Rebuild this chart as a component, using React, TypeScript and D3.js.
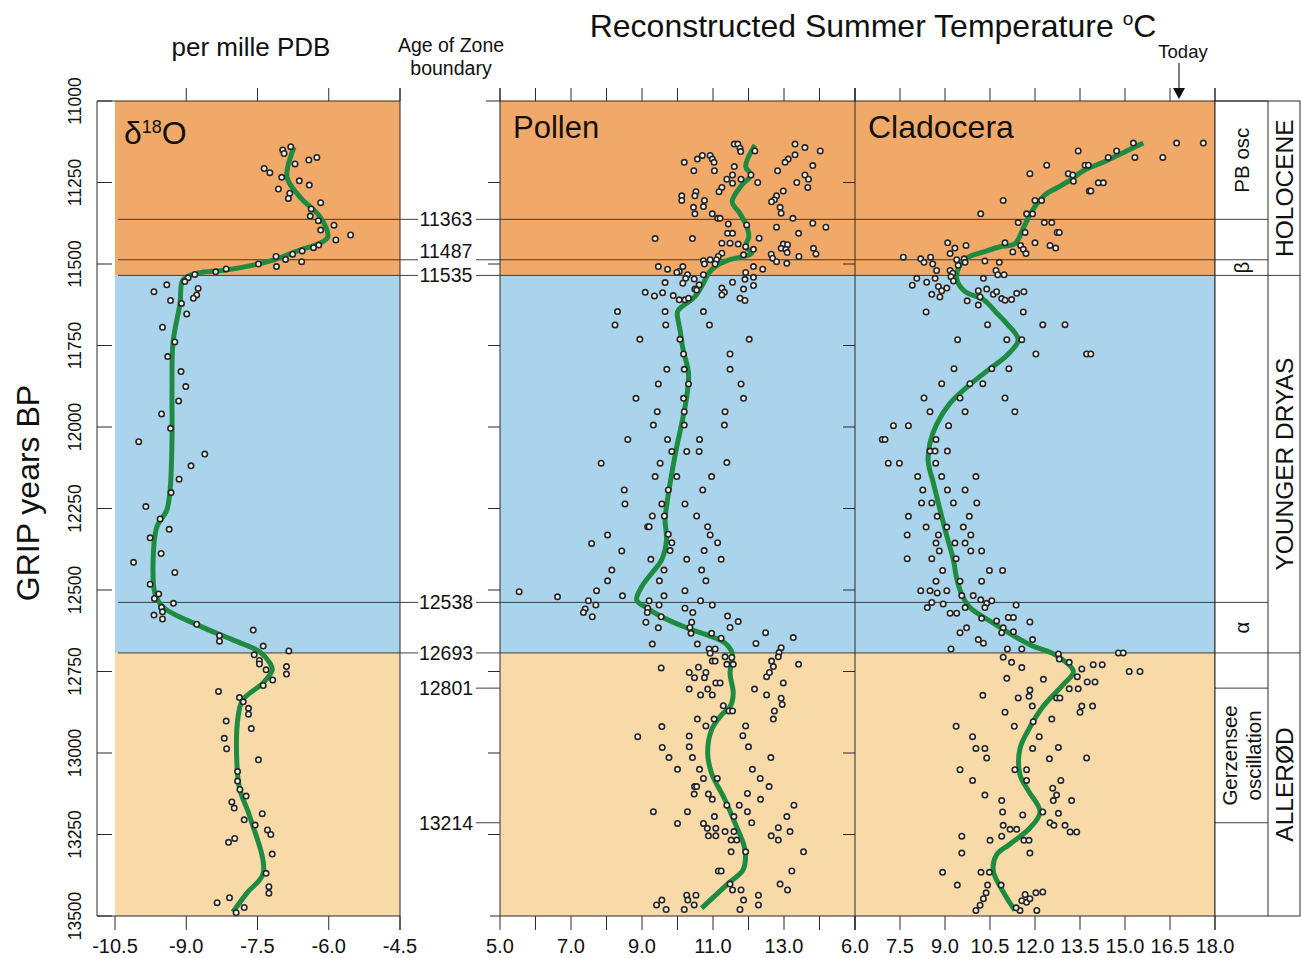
import { useEffect, useRef } from "react";
import * as d3 from "d3";

type Pt = [number, number]; // [year BP, value]

const yearTicks = [11000, 11250, 11500, 11750, 12000, 12250, 12500, 12750, 13000, 13250, 13500];
const deltaTicks = [-10.5, -9, -7.5, -6, -4.5];
const pollenTicks = [5, 6, 7, 8, 9, 10, 11, 12, 13, 14, 15];
const pollenLabels = [5, 7, 9, 11, 13];
const cladTicks = [6, 7.5, 9, 10.5, 12, 13.5, 15, 16.5, 18];
const todayTemp = 16.8;

const zoneNames = ["HOLOCENE", "YOUNGER DRYAS", "ALLERØD"];
const zoneBounds = [11000, 11535, 12693, 13500];
const subzoneNames = [["PB osc"], ["β"], ["α"], ["Gerzensee", "oscillation"]];
const subzoneSpans: Pt[] = [[11000, 11363], [11487, 11535], [12538, 12693], [12801, 13214]];
const boundaryAges = [11363, 11487, 11535, 12538, 12693, 12801, 13214];
const crossingAges = [11363, 11487, 11535, 12538, 12693];

const deltaCurve: Pt[] = [[11141,-6.73],[11233,-6.88],[11294,-6.61],[11356,-6.18],[11417,-6.02],[11436,-6.18],[11457,-6.61],[11488,-7.17],[11518,-8.14],[11528,-8.77],[11549,-9.07],[11620,-9.13],[11742,-9.28],[11887,-9.3],[12040,-9.3],[12193,-9.34],[12255,-9.41],[12307,-9.62],[12429,-9.7],[12509,-9.66],[12552,-9.49],[12607,-8.77],[12653,-8.02],[12690,-7.45],[12724,-7.24],[12745,-7.19],[12785,-7.38],[12837,-7.81],[12890,-7.91],[13043,-7.93],[13113,-7.87],[13196,-7.66],[13368,-7.38],[13429,-7.72],[13488,-8.02]];

const deltaPts: Pt[] = [[11140,-6.8],[11150,-6.97],[11161,-6.94],[11173,-6.25],[11181,-6.42],[11193,-6.71],[11207,-7.36],[11220,-7.24],[11234,-6.99],[11245,-6.62],[11258,-6.41],[11270,-7.06],[11283,-6.82],[11299,-6.85],[11312,-6.17],[11331,-6.37],[11353,-6.39],[11367,-6.22],[11381,-5.89],[11396,-6.17],[11411,-5.54],[11426,-5.85],[11442,-6.21],[11450,-6.32],[11460,-6.56],[11470,-6.76],[11486,-6.91],[11477,-7.11],[11508,-7.1],[11493,-6.57],[11500,-7.48],[11515,-8.16],[11524,-8.38],[11532,-8.82],[11542,-8.96],[11554,-9.03],[11564,-9.41],[11585,-9.68],[11575,-8.75],[11595,-8.78],[11605,-8.85],[11612,-9.33],[11621,-9.1],[11653,-8.99],[11694,-9.5],[11739,-9.24],[11784,-9.39],[11830,-9.11],[11876,-9.01],[11920,-9.16],[11960,-9.52],[12004,-9.33],[12045,-10.0],[12083,-8.61],[12119,-8.9],[12160,-9.15],[12201,-9.32],[12244,-9.85],[12282,-9.55],[12314,-9.36],[12340,-9.76],[12388,-9.53],[12415,-10.11],[12446,-9.24],[12482,-9.76],[12512,-9.58],[12526,-9.67],[12541,-9.27],[12553,-9.52],[12567,-9.5],[12577,-9.68],[12589,-9.5],[12605,-8.78],[12623,-7.59],[12640,-8.3],[12657,-8.3],[12672,-7.38],[12687,-6.84],[12699,-7.57],[12716,-7.46],[12727,-7.46],[12745,-7.32],[12735,-6.89],[12758,-6.89],[12776,-7.18],[12793,-7.38],[12811,-8.32],[12830,-7.88],[12843,-7.8],[12863,-7.69],[12881,-7.69],[12902,-8.16],[12925,-7.63],[12955,-8.2],[12987,-8.15],[13021,-7.48],[13057,-7.92],[13086,-7.92],[13112,-7.87],[13132,-7.74],[13150,-8.04],[13169,-7.99],[13186,-7.4],[13205,-7.78],[13221,-7.55],[13236,-7.29],[13250,-7.22],[13262,-7.98],[13274,-8.11],[13310,-7.19],[13369,-7.32],[13410,-7.26],[13430,-7.26],[13444,-8.09],[13459,-8.35],[13474,-7.78],[13490,-7.95]];

const pollenCurve: Pt[] = [[11135,12.18],[11201,11.92],[11227,12.07],[11258,11.81],[11309,11.54],[11345,11.76],[11385,11.95],[11416,12.01],[11447,11.92],[11467,12.09],[11478,11.81],[11488,11.43],[11508,11.06],[11529,10.87],[11559,10.73],[11600,10.49],[11631,10.12],[11646,10.0],[11702,10.07],[11764,10.16],[11835,10.31],[11907,10.26],[11989,10.12],[12060,9.98],[12142,9.84],[12244,9.69],[12285,9.65],[12347,9.69],[12408,9.55],[12449,9.27],[12490,8.99],[12531,8.85],[12551,9.08],[12582,9.55],[12618,10.31],[12643,10.96],[12663,11.34],[12694,11.54],[12755,11.48],[12817,11.57],[12858,11.48],[12883,11.24],[12929,10.96],[13001,10.85],[13062,10.96],[13144,11.34],[13215,11.62],[13297,11.9],[13358,11.85],[13400,11.43],[13476,10.68]];

const pollenPts: Pt[] = [[11132,11.6],[11132,11.7],[11145,11.76],[11155,11.78],[11153,12.18],[11132,13.31],[11143,13.59],[11153,14.02],[11188,10.19],[11178,10.56],[11167,10.7],[11167,10.92],[11178,10.98],[11188,11.03],[11178,13.12],[11188,13.03],[11165,13.31],[11198,13.81],[11214,10.46],[11214,11.04],[11201,11.6],[11214,12.82],[11227,12.07],[11227,11.55],[11240,11.39],[11240,11.79],[11252,11.55],[11250,12.26],[11227,13.59],[11240,13.69],[11250,13.36],[11265,13.67],[11265,11.25],[11278,11.17],[11276,12.98],[11291,10.12],[11305,10.12],[11278,10.52],[11291,10.49],[11305,10.76],[11324,10.73],[11326,10.45],[11346,10.49],[11291,12.79],[11303,12.73],[11309,12.65],[11326,12.89],[11344,12.92],[11346,10.98],[11360,11.13],[11360,11.2],[11377,11.43],[11380,11.95],[11360,13.25],[11375,13.81],[11387,14.18],[11387,12.79],[11406,13.41],[11422,9.37],[11422,10.42],[11406,11.41],[11406,11.55],[11421,12.3],[11436,11.25],[11436,11.48],[11439,11.71],[11447,11.92],[11439,12.98],[11441,13.1],[11452,12.92],[11455,13.05],[11452,13.83],[11465,13.09],[11469,13.9],[11467,11.25],[11477,11.15],[11472,11.86],[11455,12.14],[11470,12.64],[11482,12.68],[11493,12.79],[11498,13.08],[11477,13.42],[11487,11.1],[11487,10.92],[11490,10.73],[11500,10.76],[11508,9.46],[11516,9.72],[11500,11.06],[11508,12.14],[11516,12.4],[11526,11.92],[11508,10.15],[11523,10.05],[11526,9.98],[11533,10.28],[11544,10.23],[11546,10.47],[11533,10.73],[11559,10.15],[11557,9.65],[11564,10.61],[11577,10.49],[11574,11.25],[11556,11.55],[11547,11.9],[11541,12.14],[11577,11.86],[11566,12.14],[11587,11.32],[11595,11.25],[11587,9.09],[11598,9.35],[11588,9.58],[11597,9.88],[11610,10.05],[11610,10.21],[11605,10.31],[11580,10.54],[11605,11.76],[11612,11.9],[11646,8.31],[11646,9.65],[11646,10.73],[11687,8.24],[11687,9.67],[11687,10.9],[11731,8.94],[11731,10.07],[11731,12.02],[11776,10.17],[11776,11.48],[11823,9.7],[11823,10.19],[11823,11.48],[11868,9.46],[11868,10.31],[11868,11.79],[11912,8.83],[11912,10.17],[11912,11.86],[11953,9.43],[11953,10.19],[11953,11.34],[11994,9.32],[11994,10.19],[11994,11.32],[12038,8.6],[12038,9.72],[12038,10.62],[12075,9.84],[12075,10.26],[12075,10.61],[12111,7.85],[12111,9.51],[12109,11.39],[12152,9.37],[12152,9.98],[12152,10.96],[12193,8.5],[12193,9.74],[12193,10.71],[12236,8.52],[12236,9.56],[12236,10.21],[12273,9.29],[12273,9.63],[12273,10.54],[12306,9.16],[12306,9.2],[12306,10.85],[12331,8.03],[12329,9.74],[12331,10.92],[12357,7.58],[12355,9.84],[12355,11.13],[12380,8.43],[12379,9.79],[12379,10.75],[12406,9.25],[12406,10.26],[12406,11.23],[12439,8.15],[12439,9.62],[12439,10.68],[12472,8.03],[12472,9.49],[12472,10.8],[12505,5.54],[12502,7.72],[12502,10.21],[12521,6.62],[12518,8.45],[12518,9.62],[12533,7.49],[12546,7.7],[12533,9.2],[12546,9.48],[12533,10.65],[12546,10.98],[12558,7.4],[12569,7.35],[12582,7.6],[12556,9.16],[12569,9.15],[12556,10.21],[12569,10.43],[12582,9.54],[12580,11.41],[12599,9.11],[12616,9.46],[12599,10.4],[12615,10.35],[12633,10.38],[12615,11.48],[12597,11.71],[12633,10.96],[12648,11.23],[12631,12.48],[12664,12.21],[12646,13.26],[12666,9.29],[12666,10.56],[12681,10.89],[12681,11.06],[12694,10.92],[12718,10.98],[12718,11.06],[12705,11.34],[12707,11.53],[12728,11.39],[12728,11.57],[12677,12.92],[12692,12.86],[12705,12.84],[12718,12.65],[12735,12.7],[12728,13.41],[12739,9.54],[12753,10.33],[12737,10.59],[12769,10.48],[12753,10.8],[12769,10.76],[12766,12.51],[12753,12.59],[12785,11.08],[12785,11.2],[12785,12.98],[12804,10.33],[12804,10.85],[12822,10.65],[12822,10.98],[12804,12.17],[12822,12.51],[12832,12.92],[12851,12.95],[12855,11.29],[12871,11.45],[12871,11.55],[12871,12.73],[12896,12.7],[12896,10.56],[12896,11.03],[12917,10.8],[12919,9.56],[12950,8.88],[12948,10.33],[12917,11.92],[12947,11.84],[12983,9.57],[12981,10.33],[12981,12.0],[13014,9.76],[13014,10.42],[13014,12.63],[13050,10.0],[13050,10.62],[13050,12.11],[13078,10.73],[13078,11.12],[13078,12.33],[13103,10.48],[13103,10.54],[13103,12.58],[13126,10.47],[13126,10.87],[13142,10.98],[13124,11.97],[13142,12.34],[13160,11.39],[13160,11.74],[13160,13.28],[13180,9.32],[13180,10.28],[13180,11.97],[13195,11.04],[13195,11.59],[13195,13.08],[13216,10.0],[13216,10.73],[13214,12.09],[13231,10.84],[13231,11.08],[13241,11.34],[13241,11.59],[13229,12.84],[13241,13.17],[13254,10.87],[13254,11.08],[13254,12.64],[13267,11.51],[13267,11.67],[13267,12.84],[13303,11.51],[13303,11.92],[13303,13.55],[13362,11.15],[13362,11.23],[13362,13.22],[13402,11.48],[13402,12.89],[13420,11.55],[13420,11.79],[13420,13.1],[13436,10.26],[13436,10.52],[13436,12.28],[13451,9.56],[13451,10.29],[13451,11.86],[13466,9.41],[13466,10.47],[13466,12.28],[13480,9.68],[13480,10.19],[13480,11.76]];

const cladCurve: Pt[] = [[11129,15.61],[11148,15.17],[11183,14.39],[11214,13.61],[11243,13.17],[11267,12.72],[11284,12.39],[11316,12.06],[11349,11.83],[11390,11.61],[11438,11.33],[11447,10.83],[11463,10.28],[11479,9.78],[11504,9.5],[11544,9.39],[11585,9.67],[11609,10.28],[11650,10.72],[11683,11.06],[11732,11.44],[11781,11.06],[11821,10.5],[11870,9.83],[11927,9.17],[11992,8.72],[12049,8.5],[12106,8.44],[12171,8.61],[12253,8.83],[12334,9.06],[12408,9.28],[12465,9.39],[12514,9.56],[12554,9.83],[12595,10.5],[12628,11.06],[12668,11.83],[12701,12.72],[12750,13.28],[12790,12.94],[12856,12.28],[12921,11.83],[12986,11.5],[13067,11.5],[13116,11.78],[13181,12.17],[13230,11.83],[13279,11.17],[13312,10.72],[13361,10.61],[13426,10.94],[13483,11.33]];

const cladPts: Pt[] = [[11153,13.44],[11153,14.72],[11129,15.28],[11129,16.72],[11129,17.61],[11173,15.33],[11173,16.26],[11173,14.44],[11197,12.39],[11197,13.67],[11197,13.78],[11223,11.83],[11223,13.11],[11227,13.26],[11246,13.28],[11276,13.81],[11276,13.86],[11251,14.11],[11251,14.28],[11305,10.94],[11305,12.0],[11305,12.22],[11346,10.19],[11346,11.72],[11346,11.92],[11373,12.31],[11373,12.56],[11373,11.44],[11403,11.67],[11403,12.74],[11403,12.81],[11435,12.0],[11435,11.0],[11443,11.52],[11455,11.61],[11468,11.7],[11443,12.5],[11451,12.69],[11463,11.26],[11479,7.61],[11484,8.19],[11479,8.52],[11435,9.09],[11468,9.17],[11451,9.33],[11443,9.7],[11484,9.64],[11487,9.39],[11495,8.3],[11500,8.59],[11520,8.72],[11520,9.17],[11528,9.26],[11504,9.44],[11495,9.67],[11491,10.33],[11495,10.81],[11520,10.7],[11533,10.76],[11533,10.97],[11539,9.2],[11544,8.67],[11556,8.39],[11544,8.06],[11565,7.91],[11552,9.28],[11544,10.28],[11569,8.78],[11582,8.89],[11574,9.06],[11593,8.56],[11601,8.83],[11647,8.37],[11582,10.11],[11577,10.39],[11593,10.61],[11585,10.72],[11606,10.89],[11611,11.0],[11609,11.22],[11590,11.39],[11585,11.63],[11613,9.74],[11601,10.17],[11626,10.11],[11647,11.61],[11686,10.42],[11686,12.26],[11686,13.0],[11732,9.42],[11732,11.06],[11732,11.56],[11776,12.03],[11776,13.72],[11776,13.86],[11821,9.3],[11821,10.56],[11821,11.13],[11867,8.89],[11867,9.83],[11867,10.26],[11911,8.3],[11911,9.5],[11911,11.0],[11953,8.5],[11953,9.67],[11953,11.33],[11996,7.28],[11996,7.78],[11996,9.12],[12038,6.91],[12038,7.0],[12038,8.7],[12074,8.5],[12074,8.67],[12074,9.08],[12111,7.11],[12111,7.48],[12111,8.69],[12152,8.09],[12152,8.89],[12152,10.03],[12193,8.26],[12193,9.08],[12193,9.67],[12233,8.22],[12233,8.56],[12233,9.28],[12233,10.06],[12274,7.78],[12274,8.74],[12274,9.81],[12307,8.37],[12307,9.06],[12307,9.61],[12331,7.74],[12331,8.78],[12331,9.86],[12356,8.7],[12356,9.33],[12356,9.67],[12380,8.81],[12380,9.86],[12380,10.22],[12404,7.74],[12404,8.56],[12404,9.37],[12440,8.92],[12440,10.48],[12440,10.92],[12473,8.7],[12473,10.22],[12473,9.5],[12502,8.19],[12502,8.5],[12509,8.74],[12502,9.06],[12517,9.56],[12517,9.94],[12530,10.19],[12541,10.39],[12533,10.56],[12538,8.56],[12554,8.41],[12543,8.94],[12571,9.17],[12571,9.39],[12554,9.67],[12554,10.33],[12546,11.37],[12584,11.11],[12584,11.28],[12587,10.22],[12595,10.72],[12598,11.83],[12616,9.72],[12631,9.5],[12616,10.94],[12628,11.28],[12631,10.89],[12652,10.11],[12663,10.28],[12681,9.2],[12681,11.08],[12681,11.56],[12652,11.92],[12696,12.78],[12693,14.78],[12693,14.94],[12706,10.94],[12722,11.22],[12712,12.81],[12722,13.14],[12742,13.56],[12729,13.94],[12729,14.24],[12738,11.56],[12750,15.14],[12750,15.5],[12766,13.41],[12782,13.74],[12782,14.0],[12771,11.06],[12774,12.28],[12803,13.44],[12803,13.14],[12807,11.83],[12823,10.26],[12826,11.8],[12856,11.91],[12831,11.44],[12831,12.72],[12831,12.83],[12856,13.56],[12856,13.92],[12875,13.5],[12896,12.56],[12875,11.0],[12904,11.94],[12918,9.37],[12918,11.31],[12950,9.92],[12950,12.14],[12986,10.03],[12986,10.33],[12986,11.92],[12983,12.78],[13015,10.39],[13018,12.48],[13015,13.72],[13051,9.5],[13051,11.33],[13051,11.72],[13084,9.92],[13084,11.72],[13084,12.86],[13129,10.33],[13108,12.59],[13129,12.72],[13146,10.89],[13146,12.61],[13146,13.22],[13181,10.92],[13190,11.59],[13181,12.26],[13185,12.78],[13222,10.94],[13234,11.17],[13234,11.39],[13214,12.5],[13222,12.63],[13222,13.0],[13242,13.17],[13242,13.39],[13255,9.56],[13268,10.5],[13255,10.89],[13268,11.63],[13268,11.8],[13307,9.56],[13307,11.83],[13366,8.92],[13366,10.2],[13366,10.48],[13405,9.41],[13405,10.42],[13405,10.87],[13429,10.37],[13447,10.28],[13467,10.17],[13483,10.03],[13453,11.56],[13458,11.72],[13447,11.83],[13434,11.67],[13429,12.03],[13426,12.26],[13483,12.06],[13483,11.5],[13475,11.37]];

const FONT = "'Liberation Sans', Arial, Helvetica, sans-serif";
const zoneColors = ["#f1a96a", "#a9d4eb", "#f8daa8"];

const App = () => {
  const svgRef = useRef<SVGSVGElement | null>(null);

  useEffect(() => {
    const svg = d3.select(svgRef.current);
    svg.selectAll("*").remove();
    svg.style("font-family", FONT);

    const ink = "#2b2b2b";
    const y = d3.scaleLinear().domain([11000, 13500]).range([101, 916]);
    const xD = d3.scaleLinear().domain([-10.5, -4.5]).range([115, 400]);
    const xP = d3.scaleLinear().domain([5, 15]).range([500, 855]);
    const xC = d3.scaleLinear().domain([6, 18]).range([855, 1215]);
    const colL = 1215, colM = 1268, colR = 1300;

    // zone colour bands behind each panel
    [xD, xP, xC].forEach((sc) => {
      const [x0, x1] = sc.range();
      zoneBounds.slice(0, -1).forEach((b, i) => {
        svg.append("rect")
          .attr("x", x0).attr("width", x1 - x0)
          .attr("y", y(b)).attr("height", y(zoneBounds[i + 1]) - y(b))
          .attr("fill", zoneColors[i]);
      });
    });

    const line = (x1: number, y1: number, x2: number, y2: number, w = 1) =>
      svg.append("line").attr("x1", x1).attr("y1", y1).attr("x2", x2).attr("y2", y2)
        .attr("stroke", ink).attr("stroke-width", w);

    const text = (x: number, yy: number, s: string, size: number, anchor = "middle") =>
      svg.append("text").attr("x", x).attr("y", yy).attr("font-size", size)
        .attr("text-anchor", anchor).attr("fill", "#111").text(s);

    const vtext = (x: number, yy: number, s: string, size: number) =>
      svg.append("text")
        .attr("transform", `translate(${x},${yy}) rotate(-90)`)
        .attr("text-anchor", "middle").attr("dy", "0.36em")
        .attr("font-size", size).attr("fill", "#111").text(s);

    // zone boundary lines across panels
    crossingAges.forEach((a) => {
      const yy = y(a);
      line(118, yy, 418, yy, 0.9);
      line(476, yy, colL, yy, 0.9);
    });
    boundaryAges.filter((a) => !crossingAges.includes(a)).forEach((a) => line(476, y(a), 500, y(a), 0.9));

    // boundary age labels
    boundaryAges.forEach((a) => {
      const off = a === 11487 ? -9 : 0;
      text(446, y(a) + off, String(a), 19.5).attr("dy", "0.36em");
    });

    // delta axis frame
    line(97, y(11000), 97, y(13500));
    line(97, y(11000), 400, y(11000));
    line(97, y(13500), 400, y(13500));
    line(400, 88, 400, 930);
    yearTicks.forEach((t) => line(97, y(t), 112, y(t)));
    deltaTicks.forEach((t, i) => {
      if (i > 0) line(xD(t), 88, xD(t), y(11000));
      line(xD(t), y(13500), xD(t), 930);
      text(xD(t), 953, t.toFixed(1), 20);
    });
    yearTicks.forEach((t) => vtext(75, y(t), String(t), 17.5));

    // temperature axes frame
    line(486, y(11000), colL, y(11000));
    line(490, y(13500), colL, y(13500));
    line(500, 88, 500, y(13500));
    line(855, 88, 855, 930);
    line(colL, 88, colL, 930);
    pollenTicks.forEach((t) => {
      line(xP(t), 88, xP(t), y(11000));
      line(xP(t), y(13500), xP(t), 930);
    });
    pollenLabels.forEach((t) => text(xP(t), 953, t.toFixed(1), 20));
    cladTicks.forEach((t) => {
      line(xC(t), 88, xC(t), y(11000));
      line(xC(t), y(13500), xC(t), 930);
      text(xC(t), 953, t.toFixed(1), 20);
    });
    yearTicks.slice(1, -1).forEach((t) => {
      line(488, y(t), 500, y(t));
      line(843, y(t), 855, y(t));
    });

    // Today arrow
    const tx = xC(todayTemp);
    line(tx, 63, tx, 90, 1.2);
    svg.append("path").attr("d", `M${tx - 6},88 L${tx + 6},88 L${tx},99 Z`).attr("fill", "#111");
    text(tx + 4, 58, "Today", 18.5);

    // green curves and points
    const drawSeries = (sc: d3.ScaleLinear<number, number>, curve: Pt[], pts: Pt[]) => {
      const gen = d3.line<Pt>().x((d) => sc(d[1])).y((d) => y(d[0])).curve(d3.curveCatmullRom.alpha(0.5));
      svg.append("path").datum(curve).attr("d", gen).attr("fill", "none")
        .attr("stroke", "#1f8b40").attr("stroke-width", 5).attr("stroke-linejoin", "round");
      svg.append("g").selectAll("circle").data(pts).join("circle")
        .attr("cx", (d) => sc(d[1])).attr("cy", (d) => y(d[0])).attr("r", 2.7)
        .attr("fill", "#f4f1ea").attr("stroke", "#262626").attr("stroke-width", 1.6);
    };
    drawSeries(xD, deltaCurve, deltaPts);
    drawSeries(xP, pollenCurve, pollenPts);
    drawSeries(xC, cladCurve, cladPts);

    // zone columns on the right
    svg.append("rect").attr("x", colL).attr("y", y(11000)).attr("width", colR - colL)
      .attr("height", y(13500) - y(11000)).attr("fill", "#fff").attr("stroke", ink).attr("stroke-width", 1);
    line(colM, y(11000), colM, y(13500));
    subzoneSpans.forEach(([a, b]) => {
      line(colL, y(a), colM, y(a), 0.9);
      line(colL, y(b), colM, y(b), 0.9);
    });
    zoneBounds.slice(1, -1).forEach((b) => line(colM, y(b), colR, y(b), 0.9));
    subzoneSpans.forEach(([a, b], i) => {
      const lines = subzoneNames[i];
      const cy = (y(a) + y(b)) / 2;
      lines.forEach((s, j) => {
        const cx = (colL + colM) / 2 + (j - (lines.length - 1) / 2) * 24;
        vtext(cx, cy, s, 20.5);
      });
    });
    zoneNames.forEach((s, i) => {
      const cy = (y(zoneBounds[i]) + y(zoneBounds[i + 1])) / 2;
      vtext((colM + colR) / 2, cy, s, 24.5);
    });

    // titles
    const title = text(873, 37, "Reconstructed Summer Temperature ", 32);
    title.append("tspan").attr("font-size", 19).attr("dy", -12).text("o");
    title.append("tspan").attr("dy", 12).text("C");
    text(251, 56, "per mille PDB", 26);
    text(451, 52, "Age of Zone", 19.5);
    text(451, 75, "boundary", 19.5);
    svg.append("text")
      .attr("transform", "translate(39,493) rotate(-90)")
      .attr("text-anchor", "middle").attr("font-size", 32).attr("fill", "#111").text("GRIP years BP");

    const d18 = text(124, 144, "δ", 32, "start");
    d18.append("tspan").attr("font-size", 18).attr("dy", -11).text("18");
    d18.append("tspan").attr("dy", 11).text("O");
    text(513, 138, "Pollen", 31, "start");
    text(868, 138, "Cladocera", 32, "start");
  }, []);

  return (
    <svg
      ref={svgRef}
      width={1303}
      height={958}
      style={{ position: "absolute", left: 0, top: 0, background: "#fff" }}
    />
  );
};

export default App;
